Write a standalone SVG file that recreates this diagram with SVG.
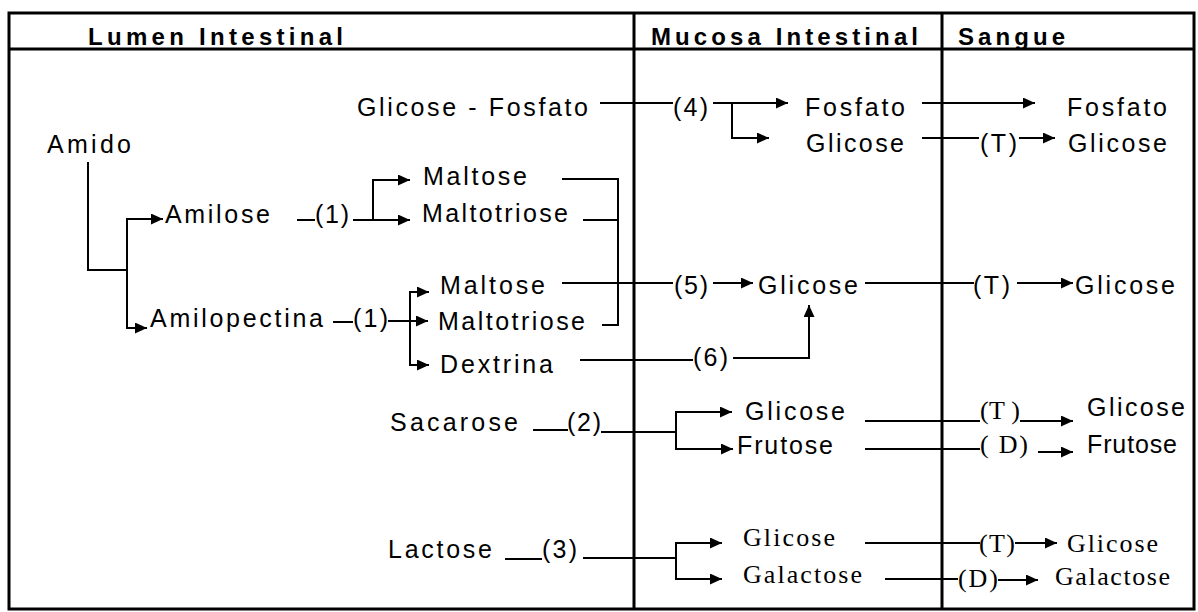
<svg xmlns="http://www.w3.org/2000/svg" width="1198" height="612" viewBox="0 0 1198 612">
<style>
.frame{fill:none;stroke:#000;stroke-width:3}
.c{fill:none;stroke:#000;stroke-width:2}
.a{fill:none;stroke:#000;stroke-width:2;marker-end:url(#ah)}
.h{font-family:"Liberation Sans",Arial,sans-serif;font-weight:bold;font-size:24px;fill:#000}
.t{font-family:"Liberation Sans",Arial,sans-serif;font-size:25px;fill:#000}
.s{font-family:"Liberation Serif","Times New Roman",serif;font-size:26px;fill:#000}
</style>
<defs>
<marker id="ah" markerUnits="userSpaceOnUse" markerWidth="13" markerHeight="12" refX="12" refY="5.5" orient="auto">
<path d="M0,0 L12,5.5 L0,11 z" fill="#000"/>
</marker>
</defs>
<rect width="1198" height="612" fill="#fff"/>
<g id="frame">
<rect class="frame" x="9" y="13" width="1185" height="596"/>
<line class="frame" x1="9" y1="49" x2="1194" y2="49"/>
<line class="frame" x1="634" y1="13" x2="634" y2="609"/>
<line class="frame" x1="942" y1="13" x2="942" y2="609"/>
</g>
<g id="headers">
<text class="h" x="88" y="45" textLength="255" lengthAdjust="spacing">Lumen  Intestinal</text>
<text class="h" x="651" y="45" textLength="267" lengthAdjust="spacing">Mucosa  Intestinal</text>
<text class="h" x="958" y="45" textLength="107" lengthAdjust="spacing">Sangue</text>
</g>
<g id="connectors">
<line class="c" x1="600" y1="103" x2="673" y2="103"/>
<line class="a" x1="713" y1="103" x2="788" y2="103"/>
<polyline class="a" points="732,103 732,138 769,138"/>
<line class="a" x1="922" y1="103" x2="1035" y2="103"/>
<line class="c" x1="922" y1="138" x2="979" y2="138"/>
<line class="a" x1="1019" y1="138" x2="1055" y2="138"/>
<polyline class="c" points="88,162 88,270 127,270"/>
<polyline class="a" points="127,270 127,219 163,219"/>
<polyline class="a" points="127,270 127,328 147,328"/>
<line class="c" x1="297" y1="220" x2="315" y2="220"/>
<line class="a" x1="353" y1="220" x2="410" y2="220"/>
<polyline class="a" points="373,220 373,180 410,180"/>
<polyline class="c" points="562,179 618,179 618,325 602,325"/>
<line class="c" x1="583" y1="220" x2="618" y2="220"/>
<line class="c" x1="333" y1="322" x2="353" y2="322"/>
<line class="a" x1="388" y1="321" x2="428" y2="321"/>
<polyline class="a" points="410,321 410,292 429,292"/>
<polyline class="a" points="410,321 410,365 429,365"/>
<line class="c" x1="562" y1="283" x2="673" y2="283"/>
<line class="a" x1="713" y1="283" x2="753" y2="283"/>
<line class="c" x1="865" y1="283" x2="974" y2="283"/>
<line class="a" x1="1017" y1="283" x2="1073" y2="283"/>
<line class="c" x1="580" y1="360" x2="693" y2="360"/>
<polyline class="a" points="733,358 809,358 809,305"/>
<line class="c" x1="533" y1="430" x2="568" y2="430"/>
<line class="c" x1="601" y1="432" x2="676" y2="432"/>
<polyline class="a" points="676,432 676,412 732,412"/>
<polyline class="a" points="676,432 676,449 733,449"/>
<line class="c" x1="865" y1="421" x2="980" y2="421"/>
<line class="a" x1="1020" y1="421" x2="1073" y2="421"/>
<line class="c" x1="865" y1="449" x2="980" y2="449"/>
<line class="a" x1="1038" y1="452" x2="1073" y2="452"/>
<line class="c" x1="505" y1="559" x2="542" y2="559"/>
<line class="c" x1="583" y1="558" x2="676" y2="558"/>
<polyline class="a" points="676,558 676,543 722,543"/>
<polyline class="a" points="676,558 676,579 722,579"/>
<line class="c" x1="865" y1="543" x2="980" y2="543"/>
<line class="a" x1="1015" y1="543" x2="1057" y2="543"/>
<line class="c" x1="885" y1="579" x2="958" y2="579"/>
<line class="a" x1="998" y1="580" x2="1038" y2="580"/>
</g>
<g id="n-glicose-fosfato"><text class="t" x="357" y="116" textLength="231" lengthAdjust="spacing">Glicose - Fosfato</text></g>
<g id="l-4"><text class="t" x="673" y="116" textLength="35" lengthAdjust="spacing">(4)</text></g>
<g id="n-fosfato-m"><text class="t" x="805" y="116" textLength="100" lengthAdjust="spacing">Fosfato</text></g>
<g id="n-glicose-m1"><text class="t" x="806" y="152" textLength="98" lengthAdjust="spacing">Glicose</text></g>
<g id="n-fosfato-s"><text class="t" x="1067" y="116" textLength="100" lengthAdjust="spacing">Fosfato</text></g>
<g id="l-t1"><text class="t" x="980" y="152" textLength="37" lengthAdjust="spacing">(T)</text></g>
<g id="n-glicose-s1"><text class="t" x="1068" y="152" textLength="99" lengthAdjust="spacing">Glicose</text></g>
<g id="n-amido"><text class="t" x="47" y="153" textLength="84" lengthAdjust="spacing">Amido</text></g>
<g id="n-amilose"><text class="t" x="165" y="223" textLength="105" lengthAdjust="spacing">Amilose</text></g>
<g id="l-1a"><text class="t" x="315" y="223" textLength="34" lengthAdjust="spacing">(1)</text></g>
<g id="n-maltose-1"><text class="t" x="423" y="185" textLength="104" lengthAdjust="spacing">Maltose</text></g>
<g id="n-maltotriose-1"><text class="t" x="422" y="222" textLength="146" lengthAdjust="spacing">Maltotriose</text></g>
<g id="n-amilopectina"><text class="t" x="150" y="327" textLength="173" lengthAdjust="spacing">Amilopectina</text></g>
<g id="l-1b"><text class="t" x="353" y="327" textLength="35" lengthAdjust="spacing">(1)</text></g>
<g id="n-maltose-2"><text class="t" x="440" y="294" textLength="105" lengthAdjust="spacing">Maltose</text></g>
<g id="n-maltotriose-2"><text class="t" x="438" y="330" textLength="147" lengthAdjust="spacing">Maltotriose</text></g>
<g id="n-dextrina"><text class="t" x="440" y="373" textLength="113" lengthAdjust="spacing">Dextrina</text></g>
<g id="l-5"><text class="t" x="674" y="294" textLength="34" lengthAdjust="spacing">(5)</text></g>
<g id="n-glicose-m2"><text class="t" x="758" y="294" textLength="100" lengthAdjust="spacing">Glicose</text></g>
<g id="l-t2"><text class="t" x="973" y="294" textLength="37" lengthAdjust="spacing">(T)</text></g>
<g id="n-glicose-s2"><text class="t" x="1075" y="294" textLength="100" lengthAdjust="spacing">Glicose</text></g>
<g id="l-6"><text class="t" x="693" y="366" textLength="35" lengthAdjust="spacing">(6)</text></g>
<g id="n-sacarose"><text class="t" x="390" y="431" textLength="128" lengthAdjust="spacing">Sacarose</text></g>
<g id="l-2"><text class="t" x="567" y="431" textLength="34" lengthAdjust="spacing">(2)</text></g>
<g id="n-glicose-m3"><text class="t" x="745" y="420" textLength="100" lengthAdjust="spacing">Glicose</text></g>
<g id="n-frutose-m"><text class="t" x="737" y="454" textLength="96" lengthAdjust="spacing">Frutose</text></g>
<g id="l-t3"><text class="s" x="980" y="419" textLength="40" lengthAdjust="spacing">(T )</text></g>
<g id="n-glicose-s3"><text class="t" x="1087" y="416" textLength="98" lengthAdjust="spacing">Glicose</text></g>
<g id="l-d1"><text class="s" x="980" y="453" textLength="48" lengthAdjust="spacing">( D)</text></g>
<g id="n-frutose-s"><text class="t" x="1087" y="453" textLength="90" lengthAdjust="spacing">Frutose</text></g>
<g id="n-lactose"><text class="t" x="388" y="558" textLength="104" lengthAdjust="spacing">Lactose</text></g>
<g id="l-3"><text class="t" x="542" y="558" textLength="35" lengthAdjust="spacing">(3)</text></g>
<g id="n-glicose-m4"><text class="s" x="743" y="546" textLength="92" lengthAdjust="spacing">Glicose</text></g>
<g id="n-galactose-m"><text class="s" x="743" y="583" textLength="119" lengthAdjust="spacing">Galactose</text></g>
<g id="l-t4"><text class="s" x="979" y="552" textLength="36" lengthAdjust="spacing">(T)</text></g>
<g id="n-glicose-s4"><text class="s" x="1067" y="552" textLength="91" lengthAdjust="spacing">Glicose</text></g>
<g id="l-d2"><text class="s" x="958" y="587" textLength="40" lengthAdjust="spacing">(D)</text></g>
<g id="n-galactose-s"><text class="s" x="1055" y="585" textLength="115" lengthAdjust="spacing">Galactose</text></g>
</svg>
